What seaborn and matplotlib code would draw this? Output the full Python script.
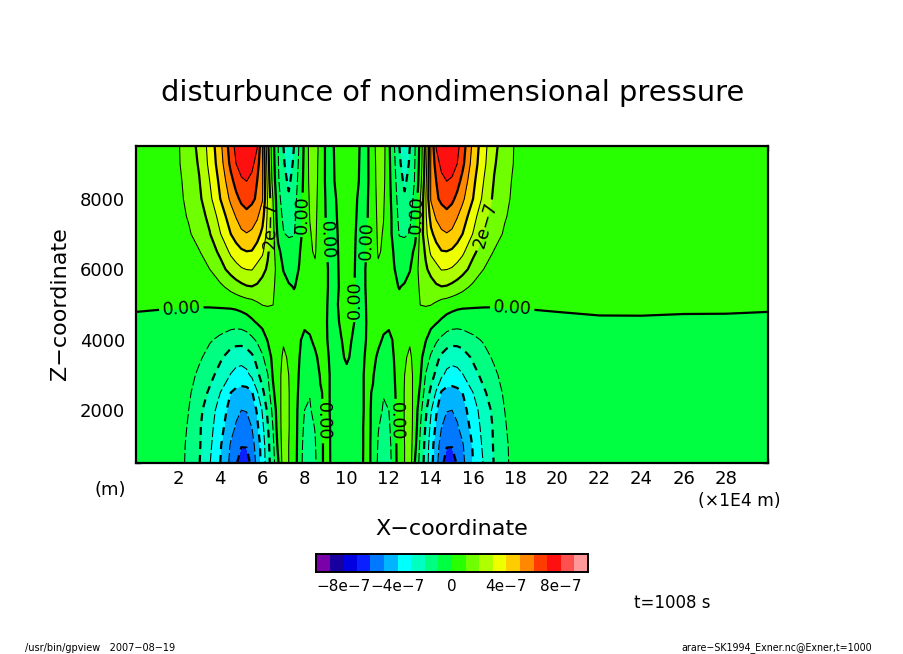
import numpy as np
import seaborn as sns
import matplotlib
matplotlib.use("Agg")
import matplotlib.pyplot as plt
from matplotlib.colors import ListedColormap, BoundaryNorm
from matplotlib.ticker import MultipleLocator

sns.set_theme(style="white")
plt.rcParams['font.family'] = ['DejaVu Sans']

# grid, x in 1E4 m, z in m, values in 1e-7
z_levels = [500, 1000, 1500, 2000, 2500, 3000, 3500, 4000, 4500, 5000,
            5500, 6000, 6500, 7000, 7500, 8000, 8500, 9000, 9500]
x_half = [0, 1, 2, 2.5, 3, 3.5, 4, 4.5, 4.75, 5, 5.25, 5.5, 5.75, 6, 6.25, 6.5, 6.75, 7, 7.25,
          7.5, 7.75, 8, 8.25, 8.5, 8.75, 9, 9.25, 9.5, 9.75, 10]
x_far = [22, 24, 26, 28, 30]

# the two lobes mirror around x=10, one row per z level
exner_half = [
    [-.3, -.32, -.6, -1.25, -1.95, -2.95, -4.0, -5.25, -5.9, -6.45, -6.35, -5.8, -4.65, -3.65, -2.4, -1.4, -.1, 1.5, 1.0, .45, -.4, -1.5, -1.8, -1.2, -.15, .15, -.02, -.55, -.5, -.45],
    [-.3, -.32, -.6, -1.2, -1.9, -2.8, -3.9, -5.1, -5.6, -5.95, -5.95, -5.4, -4.55, -3.55, -2.3, -1.25, .25, 1.5, 1.0, .45, -.35, -1.4, -1.7, -1.1, -.12, .12, -.02, -.5, -.45, -.4],
    [-.3, -.32, -.55, -1.1, -1.88, -2.68, -3.65, -4.7, -5.1, -5.45, -5.45, -5.0, -4.2, -3.25, -2.1, -1.0, .5, 1.45, 1.05, .45, -.3, -1.2, -1.4, -.95, -.1, .12, -.02, -.45, -.38, -.32],
    [-.3, -.32, -.5, -1.0, -1.75, -2.55, -3.4, -4.4, -4.8, -5.0, -4.95, -4.55, -3.9, -2.9, -1.8, -.75, .6, 1.4, 1.05, .45, -.25, -1.0, -1.1, -.7, -.08, .1, -.03, -.35, -.3, -.25],
    [-.28, -.3, -.45, -.85, -1.5, -2.15, -3.0, -4.0, -4.25, -4.35, -4.35, -4.1, -3.1, -2.2, -1.45, -.2, .65, 1.35, 1.05, .45, -.15, -.85, -.95, -.55, -.05, .1, -.03, -.3, -.24, -.2],
    [-.25, -.28, -.38, -.65, -1.2, -1.72, -2.35, -3.05, -3.3, -3.4, -3.25, -2.8, -2.2, -1.65, -1.05, .1, .7, 1.3, 1.0, .4, -.05, -.5, -.65, -.35, .05, .1, -.03, -.2, -.18, -.13],
    [-.25, -.28, -.35, -.55, -.85, -1.35, -1.85, -2.45, -2.6, -2.65, -2.5, -2.2, -1.7, -1.15, -.4, .2, .65, 1.15, .9, .35, .02, -.35, -.35, -.08, .12, .06, -.04, -.12, -.08, .08],
    [-.25, -.28, -.35, -.5, -.68, -.9, -1.2, -1.55, -1.65, -1.65, -1.5, -1.2, -.85, -.4, .05, .4, .75, .9, .55, .25, .06, -.12, -.05, .1, .1, .03, -.06, -.08, -.01, .12],
    [-.2, -.22, -.25, -.28, -.3, -.4, -.5, -.58, -.6, -.55, -.4, -.15, .08, .25, .35, .42, .42, .42, .3, .22, .15, .1, .12, .15, .12, .03, -.08, -.1, .08, .2],
    [.145, .1, .08, .07, .057, .08, .125, .18, .25, .38, .5, .6, .85, 1.03, 1.08, 1.02, .55, .3, .2, .2, .22, .28, .3, .3, .22, .05, -.1, -.06, .12, .25],
    [.35, .4, .42, .5, .58, .75, .8, 1.3, 1.55, 1.75, 1.92, 1.97, 1.85, 1.6, 1.35, 1.1, .75, .35, .1, -.03, .12, .35, .5, .52, .35, .08, -.1, -.13, .13, .3],
    [.35, .42, .5, .6, .75, 1.0, 1.65, 2.35, 2.65, 2.9, 3.02, 3.05, 2.7, 2.3, 1.85, 1.3, .65, -.05, -.35, -.35, .05, .45, .75, .88, .45, .1, -.12, -.12, .15, .35],
    [.35, .42, .55, .72, .95, 1.55, 2.2, 3.2, 3.55, 3.85, 3.98, 3.95, 3.55, 3.2, 2.15, 1.35, .25, -.4, -.6, -.6, -.1, .55, .9, 1.08, .45, .05, -.13, -.12, .2, .4],
    [.35, .42, .62, .88, 1.4, 1.95, 2.95, 4.0, 4.45, 4.8, 4.95, 4.8, 4.4, 3.75, 2.7, 1.35, -.3, -.95, -1.1, -1.05, -.4, .45, .95, 1.15, .5, .03, -.15, -.1, .25, .45],
    [.35, .42, .7, 1.08, 1.6, 2.25, 3.4, 4.55, 5.05, 5.5, 5.72, 5.55, 5.15, 4.4, 2.8, 1.2, -.6, -1.15, -1.45, -1.25, -.4, .4, 1.02, 1.2, .55, 0, -.18, -.05, .3, .5],
    [.35, .42, .75, 1.25, 1.8, 2.75, 4.0, 5.2, 5.75, 6.2, 6.4, 6.2, 5.85, 5.1, 2.9, 1.0, -.75, -1.35, -1.85, -1.4, -.55, .35, 1.1, 1.25, .6, -.03, -.2, 0, .35, .55],
    [.35, .42, .8, 1.35, 1.95, 3.0, 4.25, 5.7, 6.35, 6.85, 7.0, 6.65, 6.0, 5.1, 2.7, .6, -.9, -1.6, -2.2, -1.55, -.7, .3, 1.2, 1.3, .65, -.1, -.22, .1, .4, .6],
    [.35, .42, .9, 1.45, 2.1, 3.25, 4.55, 6.25, 7.0, 7.45, 7.6, 7.35, 6.45, 5.1, 2.5, .4, -.95, -1.85, -2.6, -1.8, -.8, .25, 1.25, 1.3, .7, -.1, -.25, .15, .45, .65],
    [.35, .4, .92, 1.5, 2.25, 3.35, 4.75, 6.5, 7.3, 7.75, 7.9, 7.65, 7.1, 5.0, 2.3, .3, -1.0, -2.0, -2.9, -2.0, -.9, .2, 1.3, 1.35, .75, -.1, -.25, .2, .5, .7],
]
exner_far = [
    [-.3, -.3, -.3, -.3, -.3], [-.3, -.3, -.3, -.3, -.3], [-.3, -.3, -.3, -.3, -.3],
    [-.3, -.3, -.3, -.3, -.3], [-.28, -.28, -.28, -.28, -.28], [-.25, -.25, -.25, -.25, -.25],
    [-.25, -.25, -.25, -.25, -.25], [-.25, -.25, -.25, -.25, -.25], [-.2, -.2, -.2, -.2, -.2],
    [.33, .35, .235, .22, .145], [.35, .35, .35, .35, .35], [.35, .35, .35, .35, .35],
    [.35, .35, .35, .35, .35], [.35, .35, .35, .35, .35], [.35, .35, .35, .35, .35],
    [.35, .35, .35, .35, .35], [.35, .35, .35, .35, .35], [.35, .35, .35, .35, .35],
    [.35, .35, .35, .35, .35],
]

cell_colors = ["#7a00a8", "#1800a0", "#0000e0", "#0a20ff", "#0078ff", "#00b4ff", "#00ffff",
               "#00ffc0", "#00ff80", "#00ff40", "#28ff00", "#70ff00", "#b0ff00", "#eeff00",
               "#ffcc00", "#ff8800", "#ff3c00", "#ff1010", "#ff5050", "#ff9898"]
levels = list(range(-10, 11))
x_ticks = list(range(2, 30, 2))
z_ticks = [2000, 4000, 6000, 8000]
bar_ticks = [-8, -4, 0, 4, 8]
bar_labels = ["\u22128e\u22127", "\u22124e\u22127", "0", "4e\u22127", "8e\u22127"]

W, H = 904, 654
fig = plt.figure(figsize=(W / 100, H / 100), dpi=100, facecolor="white")


def box(x0, y0, x1, y1):
    return [x0 / W, 1 - y1 / H, (x1 - x0) / W, (y1 - y0) / H]


def label(x, y, s, size, **kw):
    fig.text(x / W, 1 - y / H, s, fontsize=size, color="black", ha=kw.pop("ha", "center"), va="center", **kw)


# full field: left half, its mirror, then the flat part on the right
half = np.array(exner_half)
far = np.array(exner_far)
x_all = np.array(x_half + [20 - v for v in x_half[-2::-1]] + x_far)
field = np.hstack([half, half[:, -2::-1], far])

cmap = ListedColormap(sns.color_palette(cell_colors))
norm = BoundaryNorm(levels, cmap.N)

ax = fig.add_axes(box(136, 146, 768, 463))
ax.contourf(x_all, z_levels, field, levels=levels, cmap=cmap, norm=norm, antialiased=False)

# thick every 2e-7, thin between, negatives dashed
line_levels = [v for v in levels if abs(v) < 10 and v not in (0, 2)]
styles = []
for v in line_levels:
    if v >= 0:
        styles.append("solid")
    elif v % 2 == 0:
        styles.append((0, (3.6, 2.7)))
    else:
        styles.append((0, (9.6, 2.9)))
ax.contour(x_all, z_levels, field, levels=line_levels, colors="black",
           linewidths=[1.6 if v % 2 == 0 else 0.75 for v in line_levels],
           linestyles=styles)

# labels only on 0 and 2e-7, placed like the original
zero_lines = ax.contour(x_all, z_levels, field, levels=[0], colors="black", linewidths=1.6)
ax.clabel(zero_lines, fmt={0: "0.00"}, fontsize=12.5, inline=True, inline_spacing=3,
          manual=[(2.15, 4900), (17.86, 4900), (7.85, 7545), (8.98, 6830), (10.93, 6830),
                  (10.4, 5130), (13.2, 7545), (8.85, 1690), (12.4, 1690)])
two_lines = ax.contour(x_all, z_levels, field, levels=[2], colors="black", linewidths=1.6)
ax.clabel(two_lines, fmt={2: "2e\u22127"}, fontsize=12.5, inline=True, inline_spacing=3,
          manual=[(6.38, 7260), (16.5, 7260)])

ax.set_xlim(0, 30)
ax.set_ylim(500, 9500)
ax.set_xticks(x_ticks)
ax.set_yticks(z_ticks)
ax.xaxis.set_minor_locator(MultipleLocator(1))
ax.yaxis.set_minor_locator(MultipleLocator(500))
ax.tick_params(which="major", direction="in", length=7, width=1.4, top=True, right=True,
               bottom=True, left=True, labelsize=13, colors="black")
ax.tick_params(axis="x", which="major", pad=5)
ax.tick_params(axis="y", which="major", pad=8)
ax.tick_params(which="minor", direction="in", length=3.5, width=1, top=True, right=True,
               bottom=True, left=True)
ax.grid(False)
for spine in ax.spines.values():
    spine.set_linewidth(1.6)
    spine.set_color("black")

# colour bar as a one-row heatmap
cax = fig.add_axes(box(316, 554, 588, 572))
sns.heatmap(np.array([[v + 0.5 for v in levels[:-1]]]), ax=cax, cmap=cmap, norm=norm, cbar=False,
            xticklabels=False, yticklabels=False)
cax.set_xticks([v + 10 for v in bar_ticks])
cax.set_xticklabels(bar_labels, fontsize=11, color="black", rotation=0)
cax.set_yticks([])
cax.tick_params(axis="x", length=0, pad=5)
for spine in cax.spines.values():
    spine.set_visible(True)
    spine.set_linewidth(1.4)
    spine.set_color("black")

label(453, 93, "disturbunce of nondimensional pressure", 20.8)
label(60, 304, "Z\u2212coordinate", 16, rotation=90)
label(452, 529, "X\u2212coordinate", 16)
label(110, 490, "(m)", 13)
label(739, 501, "(\u00d71E4 m)", 12.3)
label(672, 603, "t=1008 s", 12)
label(25, 648, "/usr/bin/gpview   2007\u221208\u221219", 7, ha="left")
label(872, 648, "arare\u2212SK1994_Exner.nc@Exner,t=1000", 6.85, ha="right")

fig.savefig("out.png", dpi=100)
